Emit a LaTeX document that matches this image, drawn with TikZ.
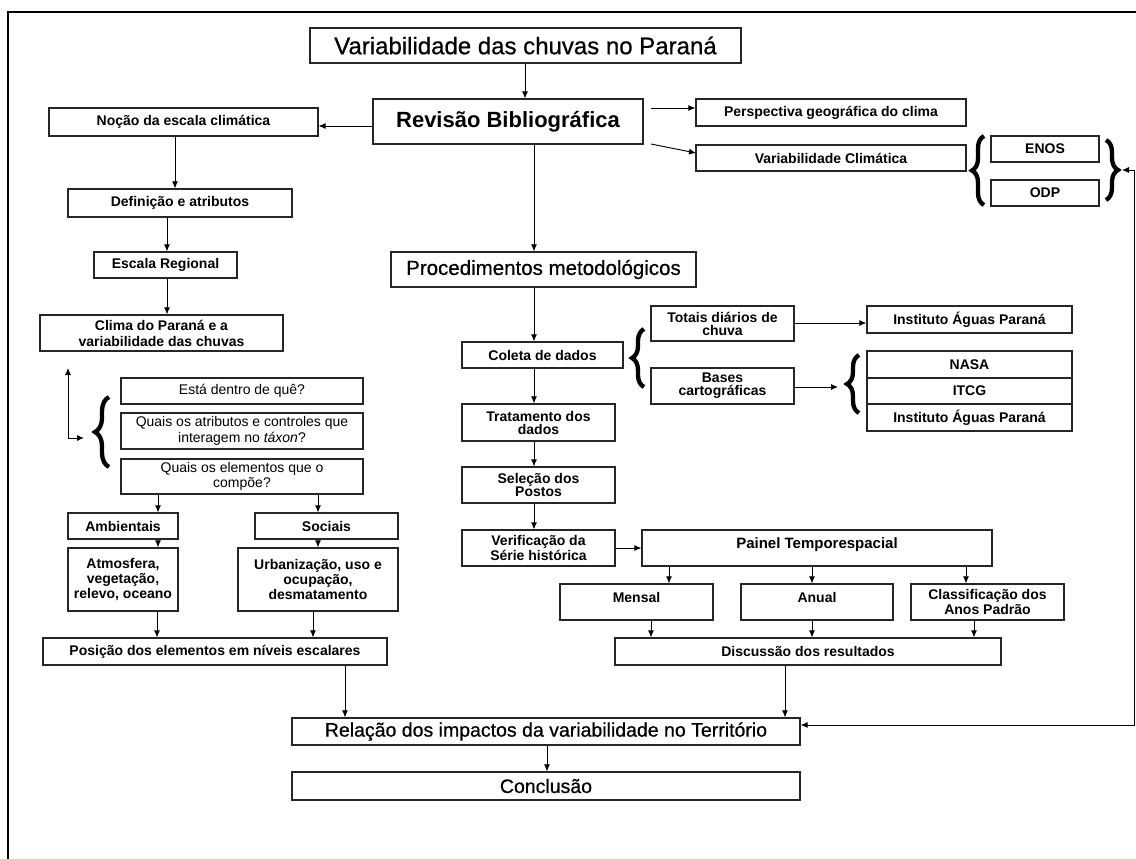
\documentclass[tikz,border=0pt]{standalone}
\usepackage{fontspec}
\setmainfont{Liberation Sans}
\newfontfamily\heavyfont[FakeBold=0.6]{Liberation Sans}
\usetikzlibrary{arrows.meta,decorations.pathreplacing}
\newcommand\bx[7][box]{\node[#1,minimum width={#5-#3},minimum height={#6-#4}] (#2) at ({(#3+#5)/2},{(#4+#6)/2}) {#7};}
\newcommand\vx[2]{\coordinate (#1) at (#2,0);}
\newcommand\hy[2]{\coordinate (#1) at (0,#2);}
\begin{document}
\begin{tikzpicture}[x=1pt,y=-1pt,
  box/.style={draw=black!85,line width=1.2pt,inner sep=0pt,align=center,font=\fontsize{14}{14}\selectfont\bfseries},
  b13/.style={box,font=\fontsize{14}{13}\selectfont\bfseries},
  b15/.style={box,font=\fontsize{14}{15}\selectfont\bfseries},
  q/.style={box,font=\fontsize{14}{15.5}\selectfont},
  bigtxt/.style={box,font=\fontsize{#1}{#1}\heavyfont},
  arr/.style={line width=0.9pt,-{Latex[length=7pt,width=6pt]}},
  arrb/.style={line width=0.9pt,{Latex[length=7pt,width=6pt]}-{Latex[length=7pt,width=6pt]}},
  br/.style={decorate,decoration={brace,amplitude=#1},line width=4.3pt},
  br/.default=12pt,
  ]
\useasboundingbox (0,0) rectangle (1136,859);
\draw[line width=1.5pt] (8,859) -- (8,12) -- (1136,12);

% top
\bx[bigtxt=24]{title}{310}{28}{741}{63}{Variabilidade das chuvas no Paraná}
\bx[box,font=\fontsize{22}{24}\selectfont\bfseries]{rev}{373}{99}{643}{144}{Revisão Bibliográfica}
\bx{nocao}{49}{108}{318}{136}{Noção da escala climática}
\bx{persp}{696}{99}{966}{126}{Perspectiva geográfica do clima}
\bx{varclim}{696}{145}{966}{171}{Variabilidade Climática}
\bx{enos}{991}{136}{1099}{162}{ENOS}
\bx{odp}{991}{180}{1099}{206}{ODP}

% left column
\bx{defin}{68}{189}{292}{217}{Definição e atributos}
\bx{escala}{94}{252}{237}{278}{Escala Regional}
\bx[box,font=\fontsize{14}{16}\selectfont\bfseries]{clima}{40}{315}{283}{351}{Clima do Paraná e a\\variabilidade das chuvas}
\bx[q]{esta}{121}{378}{363}{404}{Está dentro de quê?}
\bx[q]{atrib}{121}{413}{363}{449}{Quais os atributos e controles que\\interagem no \textit{táxon}?}
\bx[q]{elem}{121}{459}{363}{494}{Quais os elementos que o\\compõe?}
\bx{amb}{68}{513}{178}{539}{Ambientais}
\bx{soc}{255}{513}{398}{539}{Sociais}
\bx[b15]{atm}{68}{548}{178}{611}{Atmosfera,\\vegetação,\\relevo, oceano}
\bx[b15]{urb}{238}{548}{398}{611}{Urbanização, uso e\\ocupação,\\desmatamento}
\bx{posicao}{43}{638}{387}{665}{Posição dos elementos em níveis escalares}

% middle column
\bx[bigtxt=20.5]{proc}{391}{252}{696}{287}{Procedimentos metodológicos}
\bx{coleta}{462}{342}{623}{368}{Coleta de dados}
\bx[b13]{totais}{651}{306}{794}{341}{Totais diários de\\chuva}
\bx[b13]{bases}{651}{368}{794}{404}{Bases\\cartográficas}
\bx{inst1}{867}{306}{1072}{333}{Instituto Águas Paraná}
\bx{nasa}{867}{351}{1072}{378}{NASA}
\bx{itcg}{867}{378}{1072}{404}{ITCG}
\bx{inst2}{867}{404}{1072}{431}{Instituto Águas Paraná}
\bx[b13]{trat}{462}{404}{615}{441}{Tratamento dos\\dados}
\bx[b13]{selec}{462}{467}{615}{503}{Seleção dos\\Postos}
\bx[b13]{verif}{462}{530}{615}{566}{Verificação da\\Série histórica}
\bx[box,font=\fontsize{15}{16}\selectfont\bfseries,text depth=10pt]{painel}{642}{530}{992}{566}{Painel Temporespacial}
\bx[box,text depth=10pt]{mensal}{560}{584}{713}{620}{Mensal}
\bx[box,text depth=10pt]{anual}{741}{584}{893}{620}{Anual}
\bx[b13]{classif}{911}{584}{1064}{620}{Classificação dos\\Anos Padrão}
\bx{disc}{615}{638}{1001}{665}{Discussão dos resultados}
\bx[bigtxt=19.5]{relacao}{292}{718}{800}{745}{Relação dos impactos da variabilidade no Território}
\bx[bigtxt=19.5]{concl}{292}{772}{800}{800}{Conclusão}

% helper coordinates
\vx{X525}{525}\vx{X175}{175}\vx{X167}{167}\vx{X158}{158}\vx{X318}{318}
\vx{X157}{157}\vx{X313}{313}\vx{X345}{345}\vx{X534}{534}
\vx{X669}{669}\vx{X812}{812}\vx{X966}{966}\vx{X651}{651}\vx{X974}{974}
\vx{X785}{785}\vx{X547}{547}
\hy{Y126}{126}\hy{Y548}{548}\hy{Y323}{323}\hy{Y725}{725}
\coordinate (r1) at (651,108);
\coordinate (r2) at (651,144);
\coordinate (r2e) at (696,153);

% arrows top
\draw[arr] (title.south -| X525) -- (rev.north -| X525);
\draw[arr] (rev.west |- Y126) -- (nocao.east |- Y126);
\draw[arr] (r1) -- (r1 -| persp.west);
\draw[arr] (r2) -- (r2e);
\draw[arr] (rev.south -| X534) -- (proc.north -| X534);

% left column arrows
\draw[arr] (nocao.south -| X175) -- (defin.north -| X175);
\draw[arr] (defin.south -| X167) -- (escala.north -| X167);
\draw[arr] (escala.south -| X167) -- (clima.north -| X167);
\draw[arr] (elem.south -| X158) -- (amb.north -| X158);
\draw[arr] (elem.south -| X318) -- (soc.north -| X318);
\draw[arr] (amb.south -| X158) -- (atm.north -| X158);
\draw[arr] (soc.south -| X318) -- (urb.north -| X318);
\draw[arr] (atm.south -| X157) -- (posicao.north -| X157);
\draw[arr] (urb.south -| X313) -- (posicao.north -| X313);
\draw[arr] (posicao.south -| X345) -- (relacao.north -| X345);

\coordinate (ua) at (68,368);
\coordinate (ub) at (68,438);
\coordinate (uc) at (84,438);
\draw[arrb] (ua) -- (ub) -- (uc);
\draw[br=14pt] (109,467) -- (109,397);

% middle arrows
\draw[arr] (proc.south -| X534) -- (coleta.north -| X534);
\draw[arr] (coleta.south -| X534) -- (trat.north -| X534);
\draw[arr] (trat.south -| X534) -- (selec.north -| X534);
\draw[arr] (selec.south -| X534) -- (verif.north -| X534);
\draw[arr] (verif.east |- Y548) -- (painel.west |- Y548);
\draw[arr] (painel.south -| X669) -- (mensal.north -| X669);
\draw[arr] (painel.south -| X812) -- (anual.north -| X812);
\draw[arr] (painel.south -| X966) -- (classif.north -| X966);
\draw[arr] (mensal.south -| X651) -- (disc.north -| X651);
\draw[arr] (anual.south -| X812) -- (disc.north -| X812);
\draw[arr] (classif.south -| X974) -- (disc.north -| X974);
\draw[arr] (disc.south -| X785) -- (relacao.north -| X785);
\draw[arr] (relacao.south -| X547) -- (concl.north -| X547);

% data collection
\draw[br] (644,387) -- (644,329);
\draw[arr] (totais.east |- Y323) -- (inst1.west |- Y323);
\coordinate (nb) at (838,387);
\draw[arr] (bases.east |- nb) -- (nb);
\draw[br] (859,413) -- (859,355);

% climate variability braces
\draw[br] (984,205) -- (984,136);
\draw[br] (1106,140) -- (1106,200);
\coordinate (bt) at (1122,170);
\coordinate (rt) at (1134,170);
\coordinate (rb) at (1134,725);
\draw[arrb] (bt) -- (rt) -- (rb) -- (rb -| relacao.east);
\end{tikzpicture}
\end{document}
